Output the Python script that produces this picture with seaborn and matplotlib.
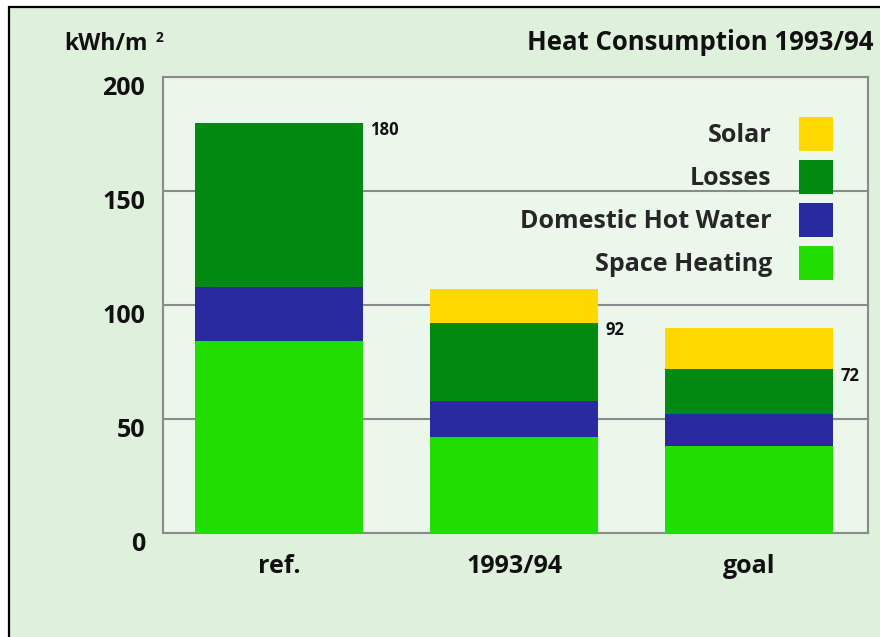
import numpy as np
import pandas as pd
import seaborn as sns
import matplotlib.pyplot as plt
from matplotlib.patches import Rectangle, Patch
from matplotlib.transforms import ScaledTranslation

# data (kWh/m2)
categories = ["ref.", "1993/94", "goal"]
space_heating = [84, 42, 38]
hot_water = [24, 16, 14]
losses = [72, 34, 20]
solar = [0, 15, 18]

series_names = ["Space Heating", "Domestic Hot Water", "Losses", "Solar"]
series_colors = ["#22dd00", "#2a2aa0", "#008a12", "#ffd800"]

sns.set_style("white")
plt.rcParams["font.family"] = ["Open Sans", "DejaVu Sans"]
plt.rcParams["font.weight"] = "bold"

fig = plt.figure(figsize=(8.8, 6.37), dpi=100, facecolor="white")
# framed light-green card
fig.patches.append(Rectangle((9 / 880, -0.02), 1.0, 1 - 7 / 637 + 0.02,
                             transform=fig.transFigure, facecolor="#dff0dc",
                             edgecolor="black", linewidth=1.6, zorder=-10))

ax = fig.add_axes([163 / 880, 1 - 533 / 637, 705 / 880, 456 / 637])
ax.set_facecolor("#ebf7ea")

# stacked bars: draw cumulative totals from the top layer down
df = pd.DataFrame({"cat": categories, "Space Heating": space_heating,
                   "Domestic Hot Water": hot_water, "Losses": losses, "Solar": solar})
cum = df[series_names].cumsum(axis=1)
for name, col in reversed(list(zip(series_names, series_colors))):
    sns.barplot(x=df["cat"], y=cum[name], color=col, width=0.715,
                saturation=1, ax=ax, zorder=3, edgecolor="none", linewidth=0)

# totals without solar
totals = cum["Losses"].tolist()
for i, t in enumerate(totals):
    ax.annotate(f"{t:.0f}", xy=(i + 0.715 / 2, t), xytext=(5, -5),
                textcoords="offset points", ha="left", va="center",
                fontsize=12, fontweight="bold", color="#111111")

ax.set_ylim(0, 200)
ax.set_xlim(-0.494, 2.506)
ax.set_yticks([0, 50, 100, 150, 200])
ax.yaxis.grid(True, color="#8a8a8a", linewidth=1.5, zorder=1)
ax.set_axisbelow(True)
for s in ax.spines.values():
    s.set_visible(True)
    s.set_color("#8a8a8a")
    s.set_linewidth(1.5)
ax.tick_params(axis="y", length=0, pad=13, labelsize=18)
ax.tick_params(axis="x", length=0, pad=15, labelsize=18)
shift = ScaledTranslation(0, -6 / 72, fig.dpi_scale_trans)
for lab in ax.get_yticklabels():
    lab.set_transform(lab.get_transform() + shift)
for lab in ax.get_xticklabels() + ax.get_yticklabels():
    lab.set_fontweight("bold")
    lab.set_color("#111111")
ax.set_xlabel("")
ax.set_ylabel("")

handles = [Patch(facecolor=c, edgecolor="none", label=n)
           for n, c in zip(series_names, series_colors)][::-1]
ax.legend(handles=handles, loc="upper right", bbox_to_anchor=(0.950, 0.912),
          frameon=False, markerfirst=False, borderpad=0, borderaxespad=0,
          handlelength=1.36, handleheight=1.715, handletextpad=1.08,
          labelspacing=0.36, prop={"size": 18, "weight": "bold"})

fig.text(64 / 880, 1 - 44 / 637, "kWh/m", fontsize=16.5, fontweight="bold",
         ha="left", va="center", color="#111111")
fig.text(156 / 880, 1 - 38 / 637, "2", fontsize=10, fontweight="bold",
         ha="left", va="center", color="#111111")
fig.text(873 / 880, 1 - 43 / 637, "Heat Consumption 1993/94", fontsize=18.5,
         fontweight="bold", ha="right", va="center", color="#111111")

fig.savefig("out.png", dpi=100, facecolor=fig.get_facecolor())
